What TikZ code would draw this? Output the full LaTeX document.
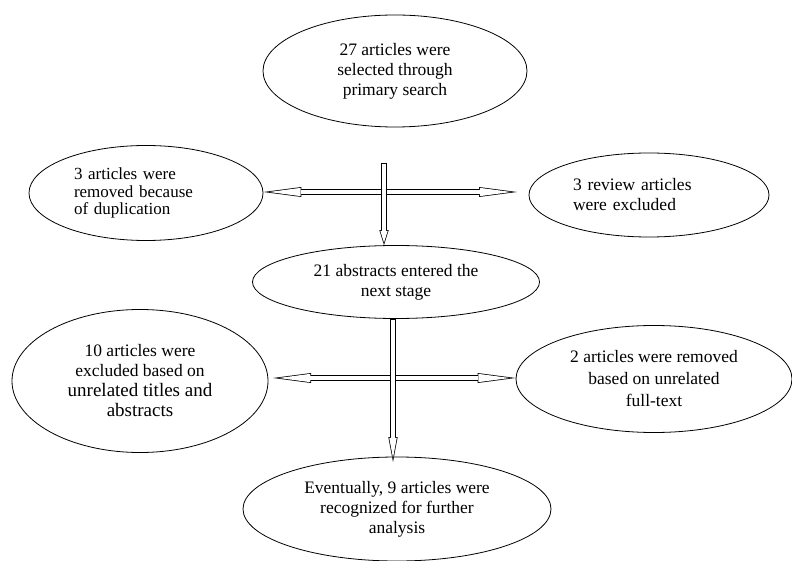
\documentclass[tikz,border=0pt]{standalone}
\usepackage{fontspec}
\setmainfont{Liberation Serif}
\usetikzlibrary{shapes.geometric,arrows.meta}

\begin{document}
\begin{tikzpicture}[x=1pt,y=-1pt,
		stage/.style={ellipse, draw, line width=0.8pt, inner sep=0pt, align=center, font=\fontsize{17.5}{20}\selectfont},
		outer/.style={line width=5.4pt},
		inner/.style={white, line width=3.9pt},
		ho/.tip={Triangle[length=38pt,width=10pt,line width=0pt]},
		hi/.tip={Triangle[length=31.5pt,width=8.3pt,line width=0pt]},
		ao/.tip={Triangle[length=15pt,width=9.4pt,line width=0pt]},
		ai/.tip={Triangle[length=11.75pt,width=7.4pt,line width=0pt]},
		bo/.tip={Triangle[length=25pt,width=9.4pt,line width=0pt]},
		bi/.tip={Triangle[length=20.2pt,width=7.6pt,line width=0pt]}]
		\useasboundingbox (0,0) rectangle (792,561);

		\node[stage, minimum width=264pt, minimum height=112pt] (S) at (395,71) {27 articles were\\ selected through\\ primary search};
		\node[stage, minimum width=234pt, minimum height=95pt, text width=144pt, align=left, font=\fontsize{17}{17.5}\selectfont] (L1) at (146,193) {3 articles were\\ removed because\\ of duplication};
		\node[stage, minimum width=240pt, minimum height=84pt, text width=152pt, align=left] (R1) at (649,195) {3 review articles\\ were excluded};
		\node[stage, minimum width=287pt, minimum height=73pt] (M) at (396,282) {21 abstracts entered the\\ next stage};
		\node[stage, minimum width=256pt, minimum height=143pt] (L2) at (140,381) {10 articles were\\ excluded based on\\ {\fontsize{19}{22}\selectfont unrelated titles and}\\ {\fontsize{19}{22}\selectfont abstracts}};
		\node[stage, minimum width=276pt, minimum height=107pt, font=\fontsize{17.5}{22}\selectfont] (R2) at (654,379) {2 articles were removed\\ based on unrelated\\ full-text};
		\node[stage, minimum width=308pt, minimum height=104pt] (E) at (397,509) {Eventually, 9 articles were\\ recognized for further\\ analysis};

		% free ends of the arrows
		\coordinate (a) at (384,163);
		\coordinate (h1) at (517,192);
		\coordinate (b) at (393,462);
		\coordinate (h2) at (273,378);

		% first stage
		\draw[outer, ho-ho] (L1.east |- h1) -- (h1);
		\draw[inner, shorten <=5.75pt, shorten >=5.75pt, hi-hi] (L1.east |- h1) -- (h1);
		\draw[outer, -ao] (a) -- (a |- M.north);
		\draw[inner, shorten <=0.75pt, shorten >=2.5pt, -ai] (a) -- (a |- M.north);

		% second stage
		\draw[outer, ho-ho] (h2) -- (R2.west |- h2);
		\draw[inner, shorten <=5.75pt, shorten >=5.75pt, hi-hi] (h2) -- (R2.west |- h2);
		\draw[outer, -bo] (b |- M.south) -- (b);
		\draw[inner, shorten <=0.75pt, shorten >=4.05pt, -bi] (b |- M.south) -- (b);
\end{tikzpicture}
\end{document}
